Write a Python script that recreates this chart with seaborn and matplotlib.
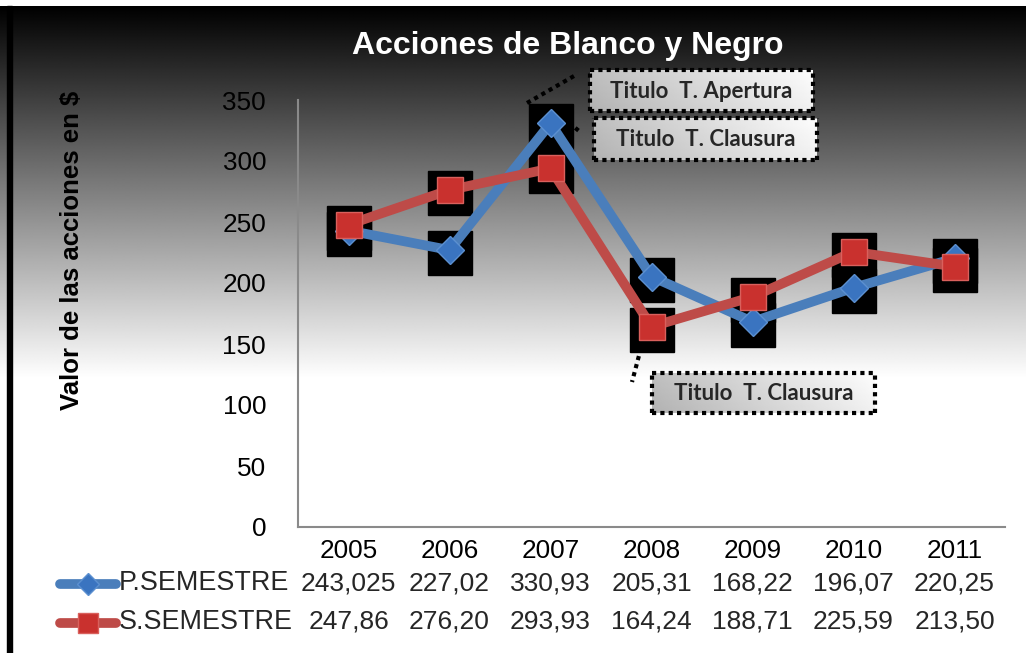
import numpy as np
import pandas as pd
import matplotlib
matplotlib.use("Agg")
import matplotlib.pyplot as plt
import seaborn as sns
from matplotlib import transforms
from matplotlib.lines import Line2D
from matplotlib.patches import Rectangle

# datos del grafico
anios = ['2005', '2006', '2007', '2008', '2009', '2010', '2011']
p_semestre = [243.025, 227.02, 330.93, 205.31, 168.22, 196.07, 220.25]
s_semestre = [247.86, 276.20, 293.93, 164.24, 188.71, 225.59, 213.50]
p_etiquetas = ['243,025', '227,02', '330,93', '205,31', '168,22', '196,07', '220,25']
s_etiquetas = ['247,86', '276,20', '293,93', '164,24', '188,71', '225,59', '213,50']
series = ['P.SEMESTRE', 'S.SEMESTRE']
y_ticks = [0, 50, 100, 150, 200, 250, 300, 350]

sns.set_style("white")
plt.rcParams['font.family'] = ['Liberation Sans', 'DejaVu Sans']

W, H = 1026, 653
fig = plt.figure(figsize=(W / 100, H / 100), dpi=100)

# fondo degradado negro -> blanco
bg = fig.add_axes([0, 0, 1, 1], zorder=-10)
filas = np.arange(H)
grad = np.clip((filas - 6) / (378 - 6), 0, 1)
grad[:6] = 1.0
bg.imshow(np.repeat(grad[:, None], 4, axis=1), cmap='gray', vmin=0, vmax=1,
          extent=[0, W, H, 0], aspect='auto', interpolation='bilinear')
bg.add_patch(Rectangle((7, 6), 5, H - 6, color='black'))
bg.set_xlim(0, W)
bg.set_ylim(H, 0)
bg.axis('off')

# lineas guia punteadas de los titulos
guia = dict(color='black', lw=3, linestyle=(0, (1, 1)), solid_capstyle='butt',
            dash_capstyle='butt')
bg.plot([527, 574], [103, 76], **guia)
bg.plot([556, 579], [112, 131], **guia)
bg.plot([641, 632], [348, 382], **guia)

# area de trazado
ax = fig.add_axes([298 / W, 1 - 527 / H, (1005 - 298) / W, 427 / H])
ax.patch.set_alpha(0)
pos = np.arange(len(anios))

# cuadros negros detras de los puntos (sombra)
sombra = transforms.offset_copy(ax.transData, fig=fig, x=0, y=-3, units='dots')
for vals in (p_semestre, s_semestre):
    ax.plot(pos, vals, 's', ms=32, color='black', transform=sombra, zorder=2, clip_on=False)

sns.lineplot(x=pos, y=p_semestre, ax=ax, color='#4A7EBB', lw=7, marker='D', ms=14,
             markerfacecolor='#3A74C0', markeredgecolor='#5C90D0', markeredgewidth=1,
             zorder=3, clip_on=False)
sns.lineplot(x=pos, y=s_semestre, ax=ax, color='#BE4B48', lw=7, marker='s', ms=19,
             markerfacecolor='#C9312E', markeredgecolor='#D9605C', markeredgewidth=1,
             zorder=4, clip_on=False)

ax.set_xlim(-0.5, 6.5)
ax.set_ylim(0, 350)
ax.set_yticks(y_ticks)
ax.set_xticks(pos)
ax.set_xticklabels(anios)
ax.tick_params(axis='both', length=0, labelsize=18.8, colors='black')
ax.tick_params(axis='y', pad=23)
ax.tick_params(axis='x', pad=9)
for lado in ('top', 'right'):
    ax.spines[lado].set_visible(False)
for lado in ('left', 'bottom'):
    ax.spines[lado].set_color('#8A8A8A')
    ax.spines[lado].set_linewidth(1.5)
ax.set_xlabel('')
ax.set_ylabel('')

# tabla de datos
xt = ax.get_xaxis_transform()
fila_p = (527 - 583) / 427
fila_s = (527 - 622) / 427
for i in pos:
    ax.text(i, fila_p, p_etiquetas[i], transform=xt, ha='center', va='center',
            fontsize=19, clip_on=False)
    ax.text(i, fila_s, s_etiquetas[i], transform=xt, ha='center', va='center',
            fontsize=19, clip_on=False)
fig.text(119 / W, 1 - 583 / H, series[0], ha='left', va='center', fontsize=19.4)
fig.text(119 / W, 1 - 622 / H, series[1], ha='left', va='center', fontsize=19.4)
bg.add_line(Line2D([60, 116], [584, 584], color='#4A7EBB', lw=7, solid_capstyle='round'))
bg.plot([88], [584], 'D', ms=11, color='#3A74C0', mec='#5C90D0')
bg.add_line(Line2D([60, 116], [623, 623], color='#BE4B48', lw=7, solid_capstyle='round'))
bg.plot([88], [623], 's', ms=15, color='#C9312E', mec='#D9605C')

# titulos
fig.text(568 / W, 1 - 46 / H, 'Acciones de Blanco y Negro', ha='center', va='center',
         fontsize=23, fontweight='bold', color='white')
fig.text(72 / W, 1 - 250 / H, 'Valor de las acciones en $', ha='center', va='center',
         rotation=90, fontsize=18.5, fontweight='bold', color='black')

# cuadros de texto con degradado
cajas = [((590, 70, 813, 111), 'Titulo  T. Apertura'),
         ((594, 118, 817, 160), 'Titulo  T. Clausura'),
         ((652, 373, 875, 413), 'Titulo  T. Clausura')]
gx = np.linspace(0, 1, 60)
gy = np.linspace(0, 1, 20)
caja_grad = 0.70 + 0.24 * gx[None, :] + 0.05 * (1 - gy[:, None])
for (x0, y0, x1, y1), texto in cajas:
    cax = fig.add_axes([x0 / W, 1 - y1 / H, (x1 - x0) / W, (y1 - y0) / H], zorder=5)
    cax.imshow(caja_grad, cmap='gray', vmin=0, vmax=1, aspect='auto',
               extent=[0, 1, 0, 1], interpolation='bilinear')
    cax.set_xticks([])
    cax.set_yticks([])
    for sp in cax.spines.values():
        sp.set_color('black')
        sp.set_linewidth(3)
        sp.set_linestyle((0, (1, 1)))
        sp.set_capstyle('butt')
    cax.text(0.5, 0.48, texto, ha='center', va='center', fontsize=16,
             fontweight='bold', family=['Lato', 'DejaVu Sans'], transform=cax.transAxes)

fig.savefig('out.png', dpi=100)
